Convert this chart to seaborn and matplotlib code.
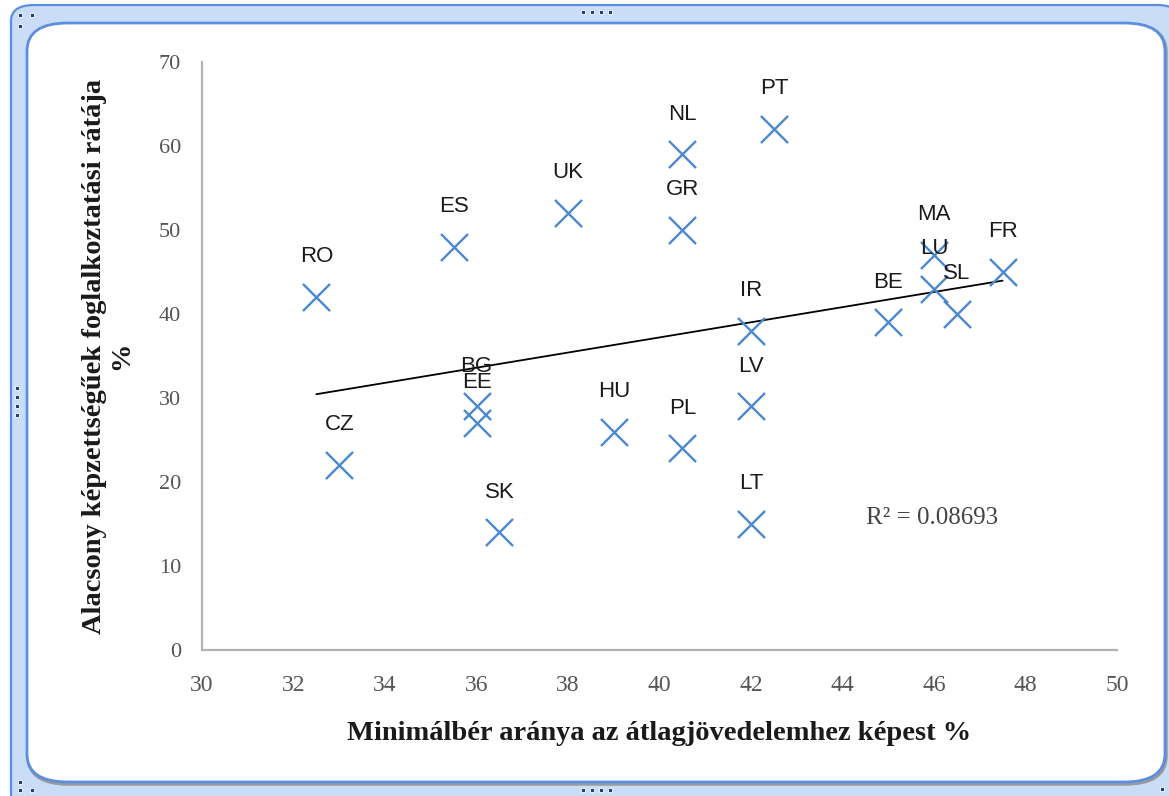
import matplotlib
matplotlib.use("Agg")
import matplotlib.pyplot as plt
from matplotlib.patches import FancyBboxPatch, Rectangle
import seaborn as sns
import pandas as pd

# ---- data ----
countries = ["RO", "CZ", "ES", "UK", "NL", "GR", "PT", "BG", "EE", "SK",
             "HU", "PL", "LV", "LT", "IR", "BE", "MA", "LU", "SL", "FR"]
min_wage_ratio = [32.5, 33, 35.5, 38, 40.5, 40.5, 42.5, 36, 36, 36.5,
                  39, 40.5, 42, 42, 42, 45, 46, 46, 46.5, 47.5]
low_skill_employment = [42, 22, 48, 52, 59, 50, 62, 29, 27, 14,
                        26, 24, 29, 15, 38, 39, 47, 43, 40, 45]
x_ticks = [30, 32, 34, 36, 38, 40, 42, 44, 46, 48, 50]
y_ticks = [0, 10, 20, 30, 40, 50, 60, 70]
x_label = "Minimálbér aránya az átlagjövedelemhez képest %"
y_label = "Alacsony képzettségűek foglalkoztatási rátája\n%"
r2_text = "R² = 0.08693"

df = pd.DataFrame({"country": countries, "x": min_wage_ratio, "y": low_skill_employment})

sns.set_theme(style="white")
plt.rcParams["font.family"] = ["Liberation Serif", "DejaVu Serif"]

W, H = 1169, 796
fig = plt.figure(figsize=(W / 100, H / 100), dpi=100)
fig.patch.set_facecolor("white")


def fx(x):
    return x / W


def fy(y):
    return 1 - y / H


# ---- outer frame (window-like border) ----
outer = FancyBboxPatch((fx(11), fy(810)), fx(1180) - fx(11), fy(5) - fy(810),
                       boxstyle="round,pad=0,rounding_size=0.02",
                       transform=fig.transFigure, facecolor="#c9ddf7",
                       edgecolor="#5b8de0", linewidth=1.6, zorder=-10)
fig.patches.append(outer)
shadow = FancyBboxPatch((fx(28), fy(784)), fx(1166) - fx(28), fy(24) - fy(784),
                        boxstyle="round,pad=0,rounding_size=0.035",
                        transform=fig.transFigure, facecolor="none",
                        edgecolor="#9a9a9a", linewidth=2.5, zorder=-9)
fig.patches.append(shadow)
inner = FancyBboxPatch((fx(27), fy(782)), fx(1165) - fx(27), fy(23) - fy(782),
                       boxstyle="round,pad=0,rounding_size=0.035",
                       transform=fig.transFigure, facecolor="white",
                       edgecolor="#5b8de0", linewidth=2.0, zorder=-8)
fig.patches.append(inner)

# handles
handle_pos = [(18, 15), (30, 15), (18, 26),
              (581, 12), (590, 12), (599, 12), (608, 12),
              (15, 388), (15, 397), (15, 406), (15, 415),
              (581, 790), (590, 790), (599, 790), (608, 790),
              (18, 782), (30, 790), (18, 790), (1160, 789)]
for hx, hy in handle_pos:
    fig.patches.append(Rectangle((fx(hx), fy(hy + 2)), 4 / W, 4 / H,
                                 transform=fig.transFigure, facecolor="#1f3f78",
                                 edgecolor="white", linewidth=0.6, zorder=-7))

# ---- axes ----
ax = fig.add_axes([fx(202), fy(650), fx(1117) - fx(202), fy(62) - fy(650)])
ax.set_facecolor("none")

sns.regplot(data=df, x="x", y="y", scatter=False, ci=None, ax=ax,
            line_kws={"color": "black", "linewidth": 1.3})
sns.scatterplot(data=df, x="x", y="y", marker="x", s=380, linewidth=1.7,
                color="#4a88d0", ax=ax, zorder=3)

for c, xv, yv in zip(countries, min_wage_ratio, low_skill_employment):
    ax.annotate(c, (xv, yv), xytext=(0, 29), textcoords="offset points",
                ha="center", va="center", fontsize=16, color="#1a1a1a",
                family=["Liberation Sans", "DejaVu Sans"], zorder=4)

ax.set_xlim(30, 50)
ax.set_ylim(0, 70)
ax.set_xticks(x_ticks)
ax.set_yticks(y_ticks)
ax.set_xticklabels([str(t) for t in x_ticks])
ax.set_yticklabels([str(t) for t in y_ticks])

for side in ["top", "right"]:
    ax.spines[side].set_visible(False)
for side in ["left", "bottom"]:
    ax.spines[side].set_color("#b3b3b3")
    ax.spines[side].set_linewidth(1.6)

ax.tick_params(axis="both", which="major", direction="out", length=5, width=1.5,
               color="#b3b3b3", labelcolor="#555555")
ax.tick_params(axis="x", labelsize=17, pad=13)
ax.tick_params(axis="y", labelsize=16, pad=10)

ax.set_xlabel(x_label, fontsize=20.5, fontweight="bold", color="#1a1a1a", labelpad=18)
ax.set_ylabel(y_label, fontsize=20.5, fontweight="bold", color="#1a1a1a",
              labelpad=18, linespacing=1.1)

ax.text(0.726, 0.2245, r2_text, transform=ax.transAxes, ha="left", va="center",
        fontsize=18, color="#444444")

fig.savefig("out.png", dpi=100)
